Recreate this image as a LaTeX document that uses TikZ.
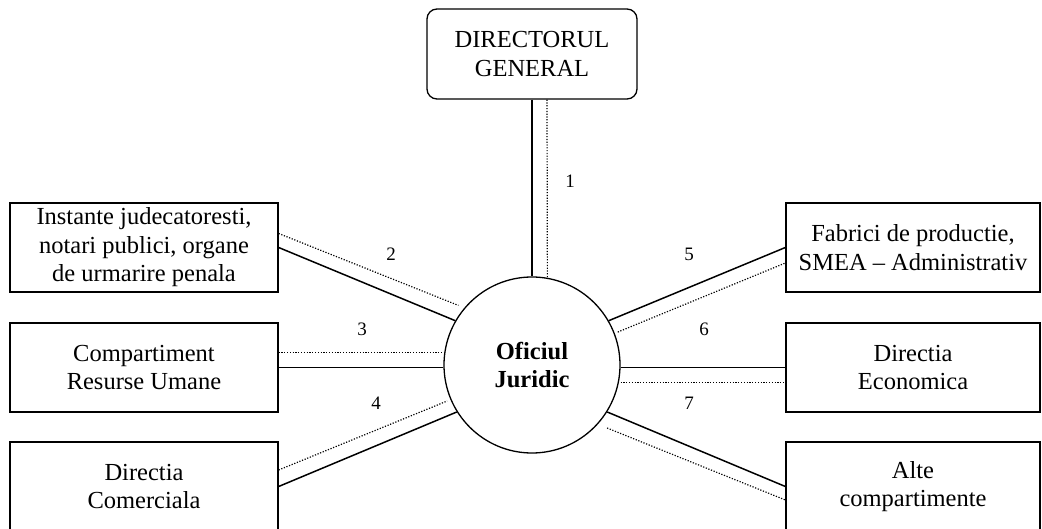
\documentclass[tikz,border=0pt]{standalone}
\usepackage{fontspec}
\setmainfont{Liberation Serif}
\usetikzlibrary{calc}
\begin{document}
\begin{tikzpicture}[x=1pt,y=-1pt,
  box/.style={draw, line width=1.3pt, minimum width=268pt, minimum height=89pt, align=center, inner sep=0pt, font=\fontsize{24.5}{28.5}\selectfont},
  solidline/.style={line width=1.5pt},
  dotline/.style={line width=1.2pt, dash pattern=on 1.2pt off 1.6pt},
  num/.style={font=\fontsize{19}{22}\selectfont, inner sep=0pt}]
\useasboundingbox (0,0) rectangle (1042,529);
\node[box, rounded corners=10pt, minimum width=210pt, minimum height=90pt] (dir) at (532,54) {DIRECTORUL\\GENERAL};
\node[draw, circle, line width=1.3pt, minimum size=176pt, inner sep=0pt, align=center, font=\fontsize{24.5}{28.5}\selectfont\bfseries] (oj) at (532,365) {Oficiul\\Juridic};
\node[box] (b2) at (144,247.5) {Instante judecatoresti,\\notari publici, organe\\de urmarire penala};
\node[box] (b3) at (144,367.5) {Compartiment\\Resurse Umane};
\node[box] (b4) at (144,486.5) {Directia\\Comerciala};
\node[box, minimum width=254pt] (b5) at (913,247.5) {Fabrici de productie,\\SMEA -- Administrativ};
\node[box, minimum width=254pt] (b6) at (913,367.5) {Directia\\Economica};
\node[box, minimum width=254pt] (b7) at (913,486.5) {Alte\\compartimente};
% connector 1
\draw[solidline] (dir.south) -- (oj.north);
\draw[dotline] ([xshift=15pt]dir.south) -- (oj.80);
% connector 2
\draw[solidline] (b2.east) -- (oj.150);
\draw[dotline] ([yshift=14pt]b2.east) -- ($(oj.center)!1.068!(oj.141.9)$);
% connector 3
\draw[solidline] (b3.east) -- (b3.east -| oj.west);
\draw[dotline] ([yshift=15pt]b3.east) -- ([yshift=15pt]b3.east -| oj.west);
% connector 4
\draw[solidline] (b4.east) -- (oj.212);
\draw[dotline] ([yshift=16.5pt]b4.east) -- ($(oj.center)!1.04!(oj.203.2)$);
% connector 5
\draw[solidline] (oj.30) -- (b5.west);
\draw[dotline] ($(oj.center)!1.036!(oj.21.2)$) -- ([yshift=-15.5pt]b5.west);
% connector 6
\draw[solidline] (b6.west -| oj.east) -- (b6.west);
\draw[dotline] ([yshift=-15pt]b6.west -| oj.east) -- ([yshift=-15pt]b6.west);
% connector 7
\draw[solidline] (oj.328) -- (b7.west);
\draw[dotline] ($(oj.center)!1.106!(oj.320.4)$) -- ([yshift=-13.5pt]b7.west);
% labels
\node[num] (n1) at (570,181) {1};
\node[num] (n2) at (391,254) {2};
\node[num] (n3) at (362,329) {3};
\node[num] (n4) at (376,403) {4};
\node[num] (n5) at (689,254) {5};
\node[num] (n6) at (704,329) {6};
\node[num] (n7) at (689,403) {7};
\end{tikzpicture}
\end{document}
